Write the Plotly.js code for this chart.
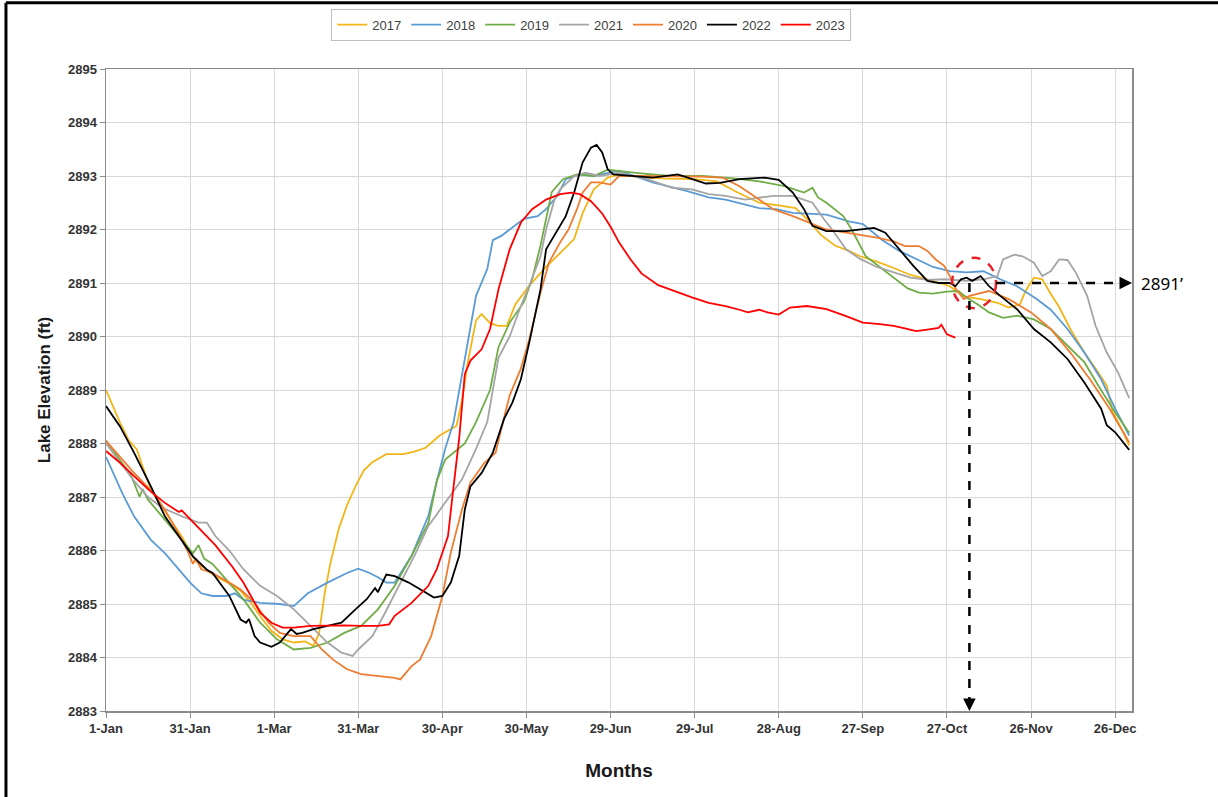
<!DOCTYPE html>
<html>
<head>
<meta charset="utf-8">
<script src="https://cdn.plot.ly/plotly-3.0.1.min.js"></script>
<style>
  html, body { margin: 0; padding: 0; background: #ffffff; }
  #chart { width: 1218px; height: 797px; }
</style>
</head>
<body>
<div id="chart"></div>
<script>
// Day-of-year ticks (30-day steps) and their labels
const tickDays = [0, 30, 60, 90, 120, 150, 180, 210, 240, 270, 300, 330, 360];
const tickLabels = ['1-Jan', '31-Jan', '1-Mar', '31-Mar', '30-Apr', '30-May', '29-Jun',
                    '29-Jul', '28-Aug', '27-Sep', '27-Oct', '26-Nov', '26-Dec'];

// Lake elevation (ft) by day of year, one pair of arrays per year
const day2017 = [0,2,5,8,11,13,16,19,22,27,32,38,44,48,52,56,59,63,67,71,74,76,78,80,83,86,89,92,95,100,106,110,114,119,125,127,129,132,134,137,140,143,146,151,157,162,167,170,174,179,183,190,200,210,218,225,233,240,246,250,255,260,265,269,275,281,287,293,301,306,312,318,322,326,328,331,334,337,340,344,349,353,357,359,363,365];
const elev2017 = [2889.0,2888.76,2888.39,2888.07,2887.89,2887.58,2887.14,2886.89,2886.65,2886.26,2885.8,2885.55,2885.38,2885.25,2885.0,2884.7,2884.5,2884.34,2884.28,2884.3,2884.22,2884.45,2885.2,2885.75,2886.4,2886.85,2887.2,2887.5,2887.65,2887.8,2887.8,2887.85,2887.92,2888.15,2888.33,2888.8,2889.5,2890.3,2890.42,2890.25,2890.2,2890.2,2890.6,2890.95,2891.3,2891.57,2891.82,2892.3,2892.75,2892.97,2893.03,2892.98,2892.95,2892.94,2892.9,2892.7,2892.5,2892.45,2892.4,2892.2,2891.9,2891.7,2891.6,2891.5,2891.4,2891.28,2891.15,2891.07,2890.94,2890.75,2890.7,2890.63,2890.54,2890.6,2890.85,2891.1,2891.07,2890.8,2890.55,2890.14,2889.7,2889.4,2889.08,2888.6,2888.2,2887.96];

const day2018 = [0,3,6,10,16,21,27,30,34,38,43,46,49,55,62,67,72,79,86,90,94,97,100,103,109,115,118,121,124,127,130,132,136,138,141,144,149,154,157,161,164,169,174,183,195,207,215,221,233,239,245,257,265,270,277,283,289,295,301,307,313,319,325,332,337,343,349,355,360,365];
const elev2018 = [2887.75,2887.4,2887.05,2886.64,2886.2,2885.95,2885.57,2885.4,2885.2,2885.15,2885.15,2885.2,2885.08,2885.02,2885.0,2884.96,2885.2,2885.4,2885.58,2885.66,2885.58,2885.5,2885.4,2885.4,2885.9,2886.65,2887.3,2887.9,2888.4,2889.3,2890.2,2890.76,2891.26,2891.8,2891.88,2892.0,2892.2,2892.25,2892.38,2892.63,2892.94,2893.03,2893.0,2893.1,2892.88,2892.72,2892.6,2892.56,2892.4,2892.38,2892.31,2892.28,2892.15,2892.1,2891.8,2891.6,2891.45,2891.3,2891.22,2891.2,2891.22,2891.07,2890.94,2890.7,2890.5,2890.14,2889.7,2889.2,2888.65,2888.15];

const day2019 = [0,5,9,12,13,15,21,27,31,33,35,38,44,49,55,61,67,73,79,85,91,97,103,109,115,118,121,124,128,132,137,140,144,149,152,155,157,159,163,168,174,179,189,201,213,225,233,242,249,252,254,257,263,266,271,276,281,286,290,295,300,304,307,311,315,320,325,331,337,343,349,354,360,365];
const elev2019 = [2888.05,2887.7,2887.4,2887.0,2887.15,2886.95,2886.58,2886.2,2885.95,2886.1,2885.85,2885.75,2885.4,2885.09,2884.65,2884.34,2884.15,2884.18,2884.28,2884.46,2884.59,2884.9,2885.34,2885.9,2886.52,2887.3,2887.7,2887.83,2888.0,2888.4,2889.0,2889.8,2890.26,2890.64,2891.07,2891.7,2892.2,2892.7,2892.94,2893.03,2893.0,2893.12,2893.06,2893.0,2893.0,2892.95,2892.9,2892.81,2892.69,2892.78,2892.6,2892.5,2892.25,2892.0,2891.5,2891.3,2891.1,2890.9,2890.82,2890.8,2890.84,2890.85,2890.73,2890.6,2890.45,2890.35,2890.39,2890.32,2890.14,2889.83,2889.52,2889.08,2888.58,2888.2];

const day2021 = [0,5,10,15,20,27,33,36,39,44,49,55,61,67,73,79,84,88,90,95,99,105,110,115,121,127,132,136,140,144,148,151,155,157,160,162,167,171,176,183,193,202,209,215,221,228,238,245,252,256,259,264,269,275,281,287,293,299,307,313,318,320,324,327,331,334,337,340,343,346,350,353,357,361,365];
const elev2021 = [2888.0,2887.65,2887.3,2887.0,2886.8,2886.64,2886.52,2886.52,2886.27,2886.0,2885.65,2885.34,2885.15,2884.9,2884.59,2884.28,2884.09,2884.03,2884.15,2884.4,2884.78,2885.4,2885.9,2886.46,2886.9,2887.33,2887.9,2888.4,2889.6,2890.0,2890.57,2890.95,2891.5,2892.0,2892.56,2892.75,2893.0,2893.06,2893.0,2893.06,2892.94,2892.78,2892.75,2892.66,2892.63,2892.56,2892.63,2892.63,2892.5,2892.2,2892.0,2891.63,2891.45,2891.3,2891.2,2891.1,2891.06,2891.07,2891.04,2891.07,2891.13,2891.44,2891.53,2891.5,2891.38,2891.13,2891.22,2891.44,2891.43,2891.19,2890.76,2890.2,2889.7,2889.33,2888.85];

const day2020 = [0,5,10,17,21,25,29,31,32,34,38,44,48,53,58,62,67,73,77,81,86,91,97,103,105,109,112,116,120,123,127,130,135,139,141,144,148,151,155,158,162,165,168,170,173,176,180,183,190,200,212,220,226,233,238,245,252,257,264,269,275,281,285,290,293,296,299,301,303,306,308,315,322,330,337,344,351,358,365];
const elev2020 = [2888.05,2887.75,2887.45,2887.07,2886.76,2886.4,2886.0,2885.75,2885.85,2885.65,2885.58,2885.4,2885.27,2885.02,2884.65,2884.46,2884.4,2884.4,2884.15,2883.96,2883.78,2883.69,2883.65,2883.62,2883.59,2883.84,2883.96,2884.4,2885.15,2885.96,2886.77,2887.27,2887.64,2887.83,2888.27,2888.9,2889.4,2889.95,2890.82,2891.38,2891.76,2892.0,2892.38,2892.69,2892.88,2892.88,2892.84,2893.0,2893.0,2893.0,2892.99,2892.97,2892.81,2892.56,2892.38,2892.25,2892.1,2892.0,2891.94,2891.9,2891.85,2891.78,2891.69,2891.69,2891.6,2891.44,2891.32,2891.13,2890.9,2890.7,2890.76,2890.85,2890.7,2890.45,2890.14,2889.7,2889.2,2888.65,2888.02];

const day2022 = [0,5,10,16,21,27,31,36,38,44,48,50,51,53,55,59,62,66,68,70,74,79,84,89,93,96,97,100,103,108,112,117,120,123,126,128,130,134,138,142,145,148,151,155,157,161,164,167,170,173,175,177,179,181,189,195,204,209,214,219,226,235,240,245,249,252,257,264,269,274,278,283,288,293,297,301,303,305,307,309,312,315,319,325,331,337,343,349,355,357,360,365];
const elev2022 = [2888.7,2888.32,2887.83,2887.2,2886.64,2886.2,2885.89,2885.64,2885.58,2885.15,2884.71,2884.65,2884.72,2884.4,2884.28,2884.2,2884.28,2884.53,2884.44,2884.46,2884.53,2884.59,2884.65,2884.9,2885.09,2885.3,2885.22,2885.55,2885.52,2885.4,2885.27,2885.12,2885.15,2885.4,2885.9,2886.77,2887.2,2887.45,2887.83,2888.46,2888.77,2889.2,2889.89,2890.88,2891.63,2892.0,2892.25,2892.69,2893.25,2893.53,2893.58,2893.44,2893.12,2893.03,2893.0,2892.97,2893.03,2892.94,2892.86,2892.87,2892.94,2892.97,2892.93,2892.69,2892.38,2892.07,2891.97,2891.97,2892.0,2892.03,2891.94,2891.63,2891.32,2891.04,2891.0,2891.0,2890.94,2891.07,2891.1,2891.04,2891.13,2890.94,2890.76,2890.51,2890.14,2889.89,2889.58,2889.14,2888.65,2888.34,2888.21,2887.88];

const day2023 = [0,5,10,16,21,26,27,33,39,45,49,55,59,63,67,73,79,85,91,97,101,103,109,115,118,122,124,126,128,130,134,137,140,144,148,152,157,162,166,169,173,177,180,183,187,191,197,203,209,215,221,226,229,233,236,240,244,250,257,264,270,276,281,285,289,293,297,298,300,303];
const elev2023 = [2887.86,2887.64,2887.39,2887.1,2886.89,2886.72,2886.75,2886.42,2886.1,2885.7,2885.4,2884.84,2884.65,2884.56,2884.56,2884.59,2884.6,2884.6,2884.59,2884.59,2884.62,2884.78,2885.02,2885.34,2885.65,2886.27,2887.2,2888.1,2889.3,2889.55,2889.76,2890.14,2890.88,2891.63,2892.13,2892.38,2892.56,2892.66,2892.69,2892.66,2892.53,2892.3,2892.05,2891.76,2891.45,2891.18,2890.96,2890.84,2890.73,2890.63,2890.57,2890.5,2890.45,2890.5,2890.45,2890.41,2890.54,2890.57,2890.51,2890.38,2890.26,2890.23,2890.2,2890.15,2890.1,2890.13,2890.16,2890.22,2890.04,2889.98];

// Marked reading: elevation 2891 ft in early November
const markDay = 308;
const markElev = 2891;
const markLabel = '2891\u2019';

const seriesDefs = [
  { name: '2017', x: day2017, y: elev2017, color: '#F2B619' },
  { name: '2018', x: day2018, y: elev2018, color: '#5B9BD5' },
  { name: '2019', x: day2019, y: elev2019, color: '#70AD47' },
  { name: '2021', x: day2021, y: elev2021, color: '#A5A5A5' },
  { name: '2020', x: day2020, y: elev2020, color: '#ED7D31' },
  { name: '2022', x: day2022, y: elev2022, color: '#000000' },
  { name: '2023', x: day2023, y: elev2023, color: '#FF0000' }
];

const traces = seriesDefs.map(s => ({
  type: 'scatter',
  mode: 'lines',
  name: s.name,
  x: s.x,
  y: s.y,
  line: { color: s.color, width: 1.8 },
  hoverinfo: 'skip'
}));

const baseFont = 'Liberation Sans, Arial, sans-serif';
const xMax = 366;

const layout = {
  width: 1218,
  height: 797,
  margin: { l: 106, r: 86, t: 69, b: 86, pad: 0, autoexpand: false },
  paper_bgcolor: '#ffffff',
  plot_bgcolor: '#ffffff',
  font: { family: baseFont, color: '#262626' },
  showlegend: true,
  legend: {
    orientation: 'h',
    x: 0.473, xanchor: 'center',
    y: 1.094, yanchor: 'top',
    bordercolor: '#bfbfbf', borderwidth: 1,
    bgcolor: '#ffffff',
    font: { family: baseFont, size: 13, color: '#404040' },
    itemwidth: 30,
    tracegroupgap: 0
  },
  xaxis: {
    range: [0, xMax],
    tickmode: 'array',
    tickvals: tickDays,
    ticktext: tickLabels,
    showgrid: true, gridcolor: '#d9d9d9', gridwidth: 1,
    zeroline: false,
    showline: true, linecolor: '#8c8c8c', linewidth: 1.5, mirror: true,
    ticks: 'outside', ticklen: 5, tickcolor: '#8c8c8c', tickwidth: 1,
    tickfont: { family: baseFont, size: 13, weight: 'bold', color: '#333333' },
    title: { text: 'Months', font: { family: baseFont, size: 19, weight: 'bold', color: '#1a1a1a' }, standoff: 28 }
  },
  yaxis: {
    range: [2883, 2895],
    tickmode: 'linear', tick0: 2883, dtick: 1,
    tickformat: 'd',
    showgrid: true, gridcolor: '#d9d9d9', gridwidth: 1,
    zeroline: false,
    showline: true, linecolor: '#8c8c8c', linewidth: 1.5, mirror: true,
    ticks: 'outside', ticklen: 5, tickcolor: '#8c8c8c', tickwidth: 1,
    tickfont: { family: baseFont, size: 13, weight: 'bold', color: '#333333' },
    title: { text: 'Lake Elevation (ft)', font: { family: baseFont, size: 17, weight: 'bold', color: '#1a1a1a' }, standoff: 13 }
  },
  shapes: [
    // outer frame (top and left edges)
    { type: 'line', xref: 'paper', yref: 'paper', x0: -0.0975, x1: -0.0975, y0: 1.103, y1: -0.15,
      line: { color: '#000000', width: 3 } },
    { type: 'line', xref: 'paper', yref: 'paper', x0: -0.0975, x1: 1.1, y0: 1.103, y1: 1.103,
      line: { color: '#000000', width: 3 } },
    // red dashed ring around the reading
    { type: 'circle', xref: 'x', yref: 'y', x0: markDay - 6.2, x1: markDay + 9.5, y0: markElev - 0.47, y1: markElev + 0.47,
      line: { color: '#E8202A', width: 2.5, dash: 'dash' } },
    // dashed leader to the right edge
    { type: 'line', xref: 'x', yref: 'y', x0: markDay + 9.5, x1: xMax - 3, y0: markElev, y1: markElev,
      line: { color: '#000000', width: 2.5, dash: 'dash' } },
    // dashed leader down to the date axis
    { type: 'line', xref: 'x', yref: 'y', x0: markDay, x1: markDay, y0: markElev, y1: 2883.15,
      line: { color: '#000000', width: 2.5, dash: 'dash' } }
  ],
  annotations: [
    { x: xMax, y: markElev, xref: 'x', yref: 'y', ax: -10, ay: 0, showarrow: true,
      arrowhead: 2, arrowsize: 1, arrowwidth: 2.5, arrowcolor: '#000000', text: '' },
    { x: markDay, y: 2883, xref: 'x', yref: 'y', ax: 0, ay: -10, showarrow: true,
      arrowhead: 2, arrowsize: 1, arrowwidth: 2.5, arrowcolor: '#000000', text: '' },
    { x: 1, y: markElev, xref: 'paper', yref: 'y', xanchor: 'left', yanchor: 'middle', xshift: 7,
      showarrow: false, text: markLabel,
      font: { family: 'Noto Sans, Open Sans, sans-serif', size: 17, color: '#000000' } }
  ],
  hovermode: false
};

Plotly.newPlot('chart', traces, layout, { staticPlot: true, displayModeBar: false });
</script>
</body>
</html>
